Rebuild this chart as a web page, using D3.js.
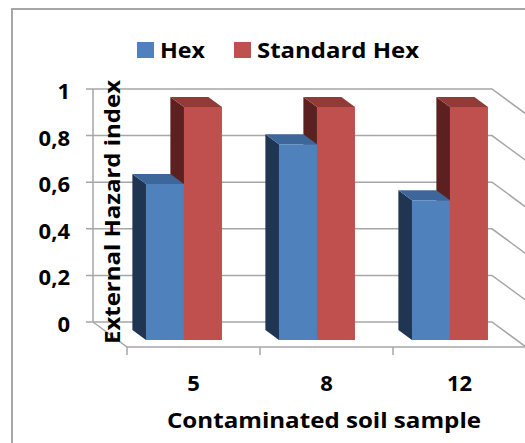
<!DOCTYPE html>
<html>
<head>
<meta charset="utf-8">
<script src="https://cdn.jsdelivr.net/npm/d3@7"></script>
<style>
  body { margin: 0; background: #fff; }
  svg { display: block; font-family: "Open Sans", Lato, sans-serif; font-weight: bold; }
</style>
</head>
<body>
<svg id="chart" width="525" height="443"></svg>
<script>
// data
const categories = ['5', '8', '12'];
const seriesNames = ['Hex', 'Standard Hex'];
const hexValues = [0.67, 0.84, 0.60];
const standardValues = [1, 1, 1];
const yTicks = [0, 0.2, 0.4, 0.6, 0.8, 1];
const yTickLabels = ['0', '0,2', '0,4', '0,6', '0,8', '1'];

const colors = {
  'Hex': { front: '#4f81bd', side: '#1f3552', top: '#3d679b' },
  'Standard Hex': { front: '#c0504d', side: '#5b201f', top: '#913b39' }
};

const svg = d3.select('#chart');

// back wall box + depth offset (back -> front)
const left = 93, right = 492;
const depthX = 34, depthY = 25;

const y = d3.scaleLinear().domain([0, 1]).range([322, 89]);
const x = d3.scaleBand().domain(categories).range([left, right]);
const xs = d3.scaleBand().domain(seriesNames).range([-38, 38]);

// point on a plane at depth t (0 = back wall, 1 = front edge)
const P = (xb, v, t) => [xb + depthX * t, y(v) + depthY * t];
const poly = pts => 'M' + pts.map(p => p.join(',')).join('L') + 'Z';

// outer frame
svg.append('rect')
  .attr('x', 12).attr('y', 9)
  .attr('width', 600).attr('height', 500)
  .attr('fill', 'none')
  .attr('stroke', '#a6a6a6')
  .attr('stroke-width', 2);

const grid = svg.append('g')
  .attr('stroke', '#a6a6a6')
  .attr('stroke-width', 1.5)
  .attr('fill', 'none');

// gridlines on back wall, folding forward on the right
grid.selectAll('.grid')
  .data(yTicks)
  .enter()
  .append('path')
  .attr('class', 'grid')
  .attr('d', d => 'M' + (left - 7) + ',' + y(d) + 'L' + right + ',' + y(d) +
    'L' + P(right, d, 1).join(','));

// back wall left edge
grid.append('line')
  .attr('x1', left).attr('y1', y(0))
  .attr('x2', left).attr('y2', y(1));

// floor left edge and front edge
grid.append('path')
  .attr('d', 'M' + P(left, 0, 0).join(',') + 'L' + P(left, 0, 1).join(',') +
    'L' + P(right, 0, 1).join(','));

// x ticks on the front edge
const xTickPos = categories.map(c => x(c)).concat([right]);
grid.selectAll('.xtick')
  .data(xTickPos)
  .enter()
  .append('line')
  .attr('x1', d => P(d, 0, 1)[0])
  .attr('x2', d => P(d, 0, 1)[0])
  .attr('y1', P(left, 0, 1)[1])
  .attr('y2', P(left, 0, 1)[1] + 8);

// bars
const tBack = 0.32, tFront = 0.72;
const barData = [];
categories.forEach((c, i) => {
  const cx = x(c) + x.bandwidth() / 2;
  // draw red first, blue over it
  [['Standard Hex', standardValues[i]], ['Hex', hexValues[i]]].forEach(([s, v]) => {
    barData.push({ s, v, x0: cx + xs(s), x1: cx + xs(s) + xs.bandwidth() });
  });
});

const bars = svg.selectAll('.bar')
  .data(barData)
  .enter()
  .append('g')
  .attr('class', 'bar');

bars.append('path') // left side
  .attr('fill', d => colors[d.s].side)
  .attr('d', d => poly([P(d.x0, 0, tBack), P(d.x0, d.v, tBack), P(d.x0, d.v, tFront), P(d.x0, 0, tFront)]));

bars.append('path') // top
  .attr('fill', d => colors[d.s].top)
  .attr('d', d => poly([P(d.x0, d.v, tBack), P(d.x1, d.v, tBack), P(d.x1, d.v, tFront), P(d.x0, d.v, tFront)]));

bars.append('path') // front
  .attr('fill', d => colors[d.s].front)
  .attr('d', d => poly([P(d.x0, 0, tFront), P(d.x0, d.v, tFront), P(d.x1, d.v, tFront), P(d.x1, 0, tFront)]));

// y tick labels
svg.selectAll('.ylabel')
  .data(yTicks)
  .enter()
  .append('text')
  .attr('x', 70)
  .attr('y', d => y(d) + 10)
  .attr('text-anchor', 'end')
  .attr('font-size', 22)
  .text((d, i) => yTickLabels[i]);

// x labels
svg.selectAll('.xlabel')
  .data(categories)
  .enter()
  .append('text')
  .attr('x', d => P(x(d) + x.bandwidth() / 2, 0, 1)[0])
  .attr('y', 391)
  .attr('text-anchor', 'middle')
  .attr('font-size', 22)
  .text(d => d);

// axis titles
svg.append('text')
  .attr('x', 324)
  .attr('y', 428)
  .attr('text-anchor', 'middle')
  .attr('font-size', 22)
  .attr('textLength', 314)
  .attr('lengthAdjust', 'spacingAndGlyphs')
  .text('Contaminated soil sample');

svg.append('text')
  .attr('transform', 'translate(120,212) rotate(-90)')
  .attr('text-anchor', 'middle')
  .attr('font-size', 22)
  .attr('textLength', 264)
  .attr('lengthAdjust', 'spacingAndGlyphs')
  .text('External Hazard index');

// legend
const legend = svg.selectAll('.legend')
  .data(seriesNames)
  .enter()
  .append('g')
  .attr('class', 'legend')
  .attr('transform', (d, i) => 'translate(' + [137, 234][i] + ',42)');

legend.append('rect')
  .attr('width', 17).attr('height', 16)
  .attr('fill', d => colors[d].front);

legend.append('text')
  .attr('x', 23).attr('y', 16)
  .attr('font-size', 22)
  .attr('textLength', (d, i) => [45, 162][i])
  .attr('lengthAdjust', 'spacingAndGlyphs')
  .text(d => d);
</script>
</body>
</html>
